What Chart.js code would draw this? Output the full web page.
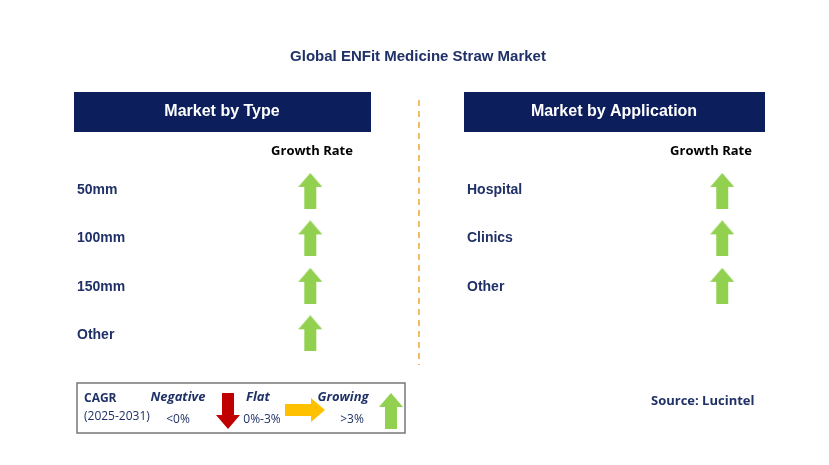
<!DOCTYPE html>
<html><head><meta charset="utf-8">
<script src="https://cdn.jsdelivr.net/npm/chart.js@4"></script>
<style>html,body{margin:0;padding:0;background:#fff}#w{width:829px;height:465px}</style>
</head><body><div id="w"><canvas id="c"></canvas></div>
<script>
const title = "Global ENFit Medicine Straw Market";
const typeCategories = ["50mm", "100mm", "150mm", "Other"];
const typeGrowth = ["growing", "growing", "growing", "growing"];
const appCategories = ["Hospital", "Clinics", "Other"];
const appGrowth = ["growing", "growing", "growing"];
const source = "Source: Lucintel";

const NAVY = "#0c1f5c", TXT = "#1f3167";
function arrowCanvas(dir, color) {
  const c = document.createElement("canvas");
  const w = dir === "right" ? 40 : 24, h = dir === "right" ? 24 : 36;
  c.width = w; c.height = h;
  const g = c.getContext("2d");
  g.fillStyle = color; g.beginPath();
  if (dir === "up") {
    g.moveTo(12,0); g.lineTo(24,14); g.lineTo(18,14); g.lineTo(18,36); g.lineTo(6,36); g.lineTo(6,14); g.lineTo(0,14);
  } else if (dir === "down") {
    g.moveTo(12,36); g.lineTo(24,22); g.lineTo(18,22); g.lineTo(18,0); g.lineTo(6,0); g.lineTo(6,22); g.lineTo(0,22);
  } else {
    g.moveTo(40,12); g.lineTo(26,0); g.lineTo(26,6); g.lineTo(0,6); g.lineTo(0,18); g.lineTo(26,18); g.lineTo(26,24);
  }
  g.closePath(); g.fill();
  return c;
}
const styles = { growing: arrowCanvas("up","#92d050"), flat: arrowCanvas("right","#ffc000"), negative: arrowCanvas("down","#c00000") };
const rowY = i => 190 + i * 48.5;
const leftPts = typeGrowth.map((g,i) => ({x:309, y:rowY(i)}));
const rightPts = appGrowth.map((g,i) => ({x:726, y:rowY(i)}));

const deco = {
  id: "deco",
  beforeDatasetsDraw(chart) {
    const g = chart.ctx;
    const F = "'Liberation Sans', Arial, sans-serif";
    g.save();
    g.textBaseline = "middle";
    g.fillStyle = TXT; g.textAlign = "center"; g.font = "bold 15px " + F;
    g.fillText(title, 418, 57);
    g.fillStyle = NAVY; g.fillRect(74, 92, 297, 40); g.fillRect(464, 92, 301, 40);
    g.fillStyle = "#fff"; g.font = "bold 16px " + F;
    g.fillText("Market by Type", 222, 112); g.fillText("Market by Application", 614, 112);
    g.fillStyle = "#000"; g.font = "bold 13px 'Open Sans', " + F;
    g.fillText("Growth Rate", 312, 151); g.fillText("Growth Rate", 711, 151);
    g.fillStyle = TXT; g.textAlign = "left"; g.font = "bold 14px " + F;
    typeCategories.forEach((c,i) => g.fillText(c, 77, rowY(i)));
    appCategories.forEach((c,i) => g.fillText(c, 467, rowY(i)));
    g.strokeStyle = "#f0a830"; g.lineWidth = 1.5; g.setLineDash([6,5]);
    g.beginPath(); g.moveTo(419, 100); g.lineTo(419, 365); g.stroke(); g.setLineDash([]);
    g.strokeStyle = "#777"; g.lineWidth = 1.5; g.strokeRect(77, 383, 328, 50);
    g.fillStyle = TXT; g.font = "bold 12px 'Open Sans', " + F; g.fillText("CAGR", 84, 399);
    g.font = "12px 'Open Sans', " + F; g.fillText("(2025-2031)", 84, 417);
    g.textAlign = "center"; g.font = "italic bold 13px 'Open Sans', " + F;
    g.fillText("Negative", 178, 397); g.fillText("Flat", 258, 397); g.fillText("Growing", 343, 397);
    g.font = "12px 'Open Sans', " + F;
    g.fillText("<0%", 178, 420); g.fillText("0%-3%", 262, 420); g.fillText(">3%", 352, 420);
    g.drawImage(styles.negative, 216, 393, 24, 36);
    g.drawImage(styles.flat, 285, 398, 40, 24);
    g.drawImage(styles.growing, 379, 393, 24, 36);
    g.fillStyle = TXT; g.textAlign = "left"; g.font = "bold 13px 'Open Sans', " + F;
    g.fillText(source, 651, 401);
    g.restore();
  }
};

new Chart(document.getElementById("c"), {
  type: "scatter",
  data: { datasets: [
    { data: leftPts, pointStyle: typeGrowth.map(g => styles[g]) },
    { data: rightPts, pointStyle: appGrowth.map(g => styles[g]) }
  ]},
  options: {
    responsive: true, maintainAspectRatio: false, animation: false,
    layout: { padding: 0 },
    plugins: { legend: { display: false }, tooltip: { enabled: false } },
    scales: {
      x: { type: "linear", min: 0, max: 829, display: false },
      y: { type: "linear", min: 0, max: 465, reverse: true, display: false }
    }
  },
  plugins: [deco]
});
</script></body></html>
